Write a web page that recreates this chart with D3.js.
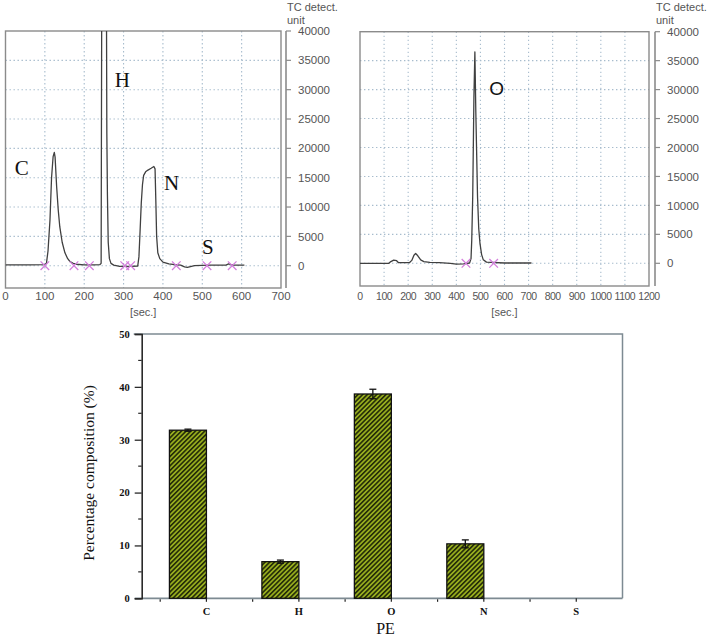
<!DOCTYPE html>
<html>
<head>
<meta charset="utf-8">
<script src="https://cdn.jsdelivr.net/npm/d3@7/dist/d3.min.js"></script>
<style>
  html, body { margin: 0; padding: 0; background: #fff; }
  svg { display: block; }
</style>
</head>
<body>
<svg id="chart" width="709" height="640"></svg>
<script>
// ---------------- DATA ----------------
// Chromatogram 1 (C, H, N, S detection)
const chromA_time = [0, 60, 100, 104, 108, 113, 117, 121, 124, 126, 130, 134, 138, 144, 151, 158, 164, 172, 180, 200, 225, 240, 243, 244.5, 250, 256.5, 257.5, 259, 261, 264, 268, 275, 290, 320, 336, 339, 342, 345, 348, 351, 356, 362, 370, 377, 380, 382, 384, 387, 392, 400, 415, 430, 445, 455, 462, 470, 480, 520, 560, 567, 573, 580, 607];
const chromA_signal = [150, 150, 200, 400, 2500, 7800, 15000, 18600, 19300, 18500, 13400, 9500, 6600, 4000, 2200, 1200, 700, 400, 250, 150, 150, 200, 400, 45000, 80000, 45000, 22500, 12000, 4000, 1200, 400, 100, -100, -100, -50, 1500, 6000, 10700, 13800, 15400, 16000, 16300, 16600, 16900, 16500, 11000, 5000, 2200, 1200, 600, 300, 200, 100, -200, -300, -150, 0, 100, 100, 300, 200, 100, 100];
const chromA_marks = [100, 174, 213, 303, 318, 434, 512, 576];
const chromA_xTicks = [0, 100, 200, 300, 400, 500, 600, 700];

// Chromatogram 2 (O detection)
const chromB_time = [0, 120, 128, 140, 152, 160, 205, 215, 224, 231, 240, 252, 265, 290, 330, 375, 400, 430, 455, 461, 464, 468, 473, 477, 481, 488, 493, 498, 505, 512, 525, 600, 712];
const chromB_signal = [0, 0, 300, 550, 450, 100, 100, 500, 1400, 1700, 1300, 600, 300, 150, 100, 0, -150, -100, 50, 800, 4000, 11500, 28700, 36500, 26000, 11500, 6000, 3500, 1500, 600, 200, 50, 50];
const chromB_marks = [440, 555];
const chromB_xTicks = [0, 100, 200, 300, 400, 500, 600, 700, 800, 900, 1000, 1100, 1200];

const chrom_yTicks = [0, 5000, 10000, 15000, 20000, 25000, 30000, 35000, 40000];

// Peak annotations (element, time, signal)
const peakNamesA = ["C", "H", "N", "S"];
const peakTimesA = [41, 297, 422, 514];
const peakSignalsA = [16700, 31600, 14100, 3200];
const peakNamesB = ["O"];
const peakTimesB = [567];
const peakSignalsB = [30200];

// Bar chart
const elements = ["C", "H", "O", "N", "S"];
const composition = [31.8, 6.93, 38.65, 10.3, 0];
const compositionErr = [0.2, 0.3, 0.9, 0.75, 0];
const barYTicks = [0, 10, 20, 30, 40, 50];
const barYMinor = [5, 15, 25, 35, 45];

// ---------------- DRAW ----------------
const svg = d3.select("#chart");
const defs = svg.append("defs");

const gray = "#555";
const frameCol = "#8b8b8b";
const gridCol = "#a7bccd";
const traceCol = "#404040";
const markCol = "#d47fdc";
const sansFont = "Liberation Sans, Arial, sans-serif";
const serifFont = "Liberation Serif, Times New Roman, serif";

function chromPanel(cfg) {
  const g = svg.append("g");
  const x = d3.scaleLinear().domain(cfg.xDomain).range([cfg.left, cfg.right]);
  const y = d3.scaleLinear().domain([0, 40000]).range([cfg.zeroY, cfg.top]);

  defs.append("clipPath").attr("id", cfg.id)
    .append("rect").attr("x", cfg.left).attr("y", cfg.top)
    .attr("width", cfg.right - cfg.left).attr("height", cfg.bottom - cfg.top);

  // grid
  const grid = g.append("g").attr("stroke", gridCol).attr("stroke-width", 1.1)
    .attr("stroke-dasharray", "1.4,2.6").attr("fill", "none");
  grid.selectAll("line.v").data(cfg.xTicks.slice(1, -1)).join("line")
    .attr("x1", d => x(d)).attr("x2", d => x(d))
    .attr("y1", cfg.top).attr("y2", cfg.bottom);
  grid.selectAll("line.h").data(chrom_yTicks.slice(0, -1)).join("line")
    .attr("x1", cfg.left).attr("x2", cfg.right)
    .attr("y1", d => y(d)).attr("y2", d => y(d));

  // frame
  g.append("rect").attr("x", cfg.left).attr("y", cfg.top)
    .attr("width", cfg.right - cfg.left).attr("height", cfg.bottom - cfg.top)
    .attr("fill", "none").attr("stroke", frameCol).attr("stroke-width", 1.4);

  // trace
  const line = d3.line().x((d, i) => x(cfg.times[i])).y(d => y(d));
  g.append("path").datum(cfg.signal)
    .attr("clip-path", `url(#${cfg.id})`)
    .attr("d", line).attr("fill", "none")
    .attr("stroke", traceCol).attr("stroke-width", 1.3)
    .attr("stroke-linejoin", "round");

  // marks (x)
  const s = 4.3;
  g.selectAll("path.mark").data(cfg.marks).join("path")
    .attr("d", d => {
      const cx = x(d), cy = y(0);
      return `M${cx - s},${cy - s}L${cx + s},${cy + s}M${cx - s},${cy + s}L${cx + s},${cy - s}`;
    })
    .attr("stroke", markCol).attr("stroke-width", 1.3).attr("fill", "none");

  // right y axis
  const ax = cfg.axisX;
  g.append("line").attr("x1", ax).attr("x2", ax).attr("y1", cfg.top).attr("y2", cfg.bottom)
    .attr("stroke", frameCol).attr("stroke-width", 1.6);
  g.selectAll("line.yt").data(chrom_yTicks).join("line")
    .attr("x1", ax).attr("x2", ax + 5)
    .attr("y1", d => y(d)).attr("y2", d => y(d))
    .attr("stroke", frameCol).attr("stroke-width", 1.2);
  g.selectAll("text.yl").data(chrom_yTicks).join("text")
    .attr("x", ax + 12).attr("y", d => y(d)).attr("dy", "0.36em")
    .attr("font-family", sansFont).attr("font-size", 11.5).attr("fill", gray)
    .text(d => d);
  g.append("text").attr("x", ax + 1).attr("y", 10.5)
    .attr("font-family", sansFont).attr("font-size", 11).attr("fill", gray)
    .text("TC detect.");
  g.append("text").attr("x", ax + 1).attr("y", 24)
    .attr("font-family", sansFont).attr("font-size", 11).attr("fill", gray)
    .text("unit");

  // x tick labels
  g.selectAll("text.xl").data(cfg.xTicks).join("text")
    .attr("x", d => x(d)).attr("y", 300).attr("text-anchor", "middle")
    .attr("font-family", sansFont).attr("font-size", cfg.xFont).attr("fill", gray)
    .attr("letter-spacing", cfg.xSpacing)
    .text(d => d);
  g.append("text").attr("x", (cfg.left + cfg.right) / 2).attr("y", 316)
    .attr("text-anchor", "middle")
    .attr("font-family", sansFont).attr("font-size", 11).attr("fill", gray)
    .text("[sec.]");

  // peak labels
  g.selectAll("text.pk").data(cfg.peakNames).join("text")
    .attr("x", (d, i) => x(cfg.peakTimes[i]))
    .attr("y", (d, i) => y(cfg.peakSignals[i]))
    .attr("dy", "0.34em").attr("text-anchor", "middle")
    .attr("font-family", cfg.peakFont).attr("font-size", cfg.peakSize).attr("fill", "#111")
    .text(d => d);
}

chromPanel({
  id: "clipA", xDomain: [0, 700], left: 5.5, right: 281, top: 31, bottom: 288, zeroY: 265.7,
  axisX: 286, xTicks: chromA_xTicks, times: chromA_time, signal: chromA_signal, marks: chromA_marks,
  peakNames: peakNamesA, peakTimes: peakTimesA, peakSignals: peakSignalsA,
  peakFont: serifFont, peakSize: 21, xFont: 11.5, xSpacing: 0
});
chromPanel({
  id: "clipB", xDomain: [0, 1200], left: 360, right: 649, top: 31.7, bottom: 286, zeroY: 263.3,
  axisX: 655, xTicks: chromB_xTicks, times: chromB_time, signal: chromB_signal, marks: chromB_marks,
  peakNames: peakNamesB, peakTimes: peakTimesB, peakSignals: peakSignalsB,
  peakFont: "Liberation Sans, Arial, sans-serif", peakSize: 19, xFont: 10.5, xSpacing: -0.5
});

// ---------------- BAR CHART ----------------
const bx = d3.scaleLinear().domain([0.3, 5.5]).range([141.7, 622.5]);
const by = d3.scaleLinear().domain([0, 50]).range([598.3, 334]);
const bg = svg.append("g");

const pat = defs.append("pattern").attr("id", "hatch")
  .attr("patternUnits", "userSpaceOnUse").attr("width", 3.3).attr("height", 3.3)
  .attr("patternTransform", "rotate(45)");
pat.append("rect").attr("width", 3.3).attr("height", 3.3).attr("fill", "#97ad1e");
pat.append("line").attr("x1", 0.8).attr("x2", 0.8).attr("y1", 0).attr("y2", 3.3)
  .attr("stroke", "#1c2406").attr("stroke-width", 1.5);

// frame top & right
bg.append("path")
  .attr("d", `M${bx(0.3) - 8},${by(50)}H${bx(5.5)}V${by(0)}`)
  .attr("fill", "none").attr("stroke", "#7d8a92").attr("stroke-width", 1.5);
// bottom axis
bg.append("line").attr("x1", bx(0.3) - 7).attr("x2", bx(5.5))
  .attr("y1", by(0)).attr("y2", by(0))
  .attr("stroke", "#7d8a92").attr("stroke-width", 1.8);

// bars
const barData = elements.map((e, i) => ({ e, v: composition[i], err: compositionErr[i], pos: i + 1 }))
  .filter(d => d.v > 0);
bg.selectAll("rect.bar").data(barData).join("rect")
  .attr("x", d => bx(d.pos - 0.4)).attr("width", d => bx(d.pos) - bx(d.pos - 0.4))
  .attr("y", d => by(d.v)).attr("height", d => by(0) - by(d.v))
  .attr("fill", "url(#hatch)").attr("stroke", "#111").attr("stroke-width", 1.3);

// error bars
const eb = bg.append("g").attr("stroke", "#111").attr("stroke-width", 1.3);
barData.forEach(d => {
  const cx = bx(d.pos - 0.2);
  eb.append("line").attr("x1", cx).attr("x2", cx).attr("y1", by(d.v + d.err)).attr("y2", by(d.v - d.err));
  eb.append("line").attr("x1", cx - 3.5).attr("x2", cx + 3.5).attr("y1", by(d.v + d.err)).attr("y2", by(d.v + d.err));
  eb.append("line").attr("x1", cx - 3.5).attr("x2", cx + 3.5).attr("y1", by(d.v - d.err)).attr("y2", by(d.v - d.err));
});

// left axis
const yAxis = d3.axisLeft(by).tickValues(barYTicks).tickSize(7).tickPadding(5).tickFormat(d3.format("d"));
const yg = bg.append("g").attr("transform", `translate(${bx(0.3)},0)`).call(yAxis);
yg.select(".domain").attr("stroke", "#2a2a2a").attr("stroke-width", 1.6);
yg.selectAll(".tick line").attr("stroke", "#2a2a2a").attr("stroke-width", 1.3);
yg.selectAll(".tick text").attr("font-family", serifFont).attr("font-weight", "bold")
  .attr("font-size", 10.5).attr("fill", "#111");
bg.selectAll("line.ymin").data(barYMinor).join("line")
  .attr("x1", bx(0.3) - 3.5).attr("x2", bx(0.3))
  .attr("y1", d => by(d)).attr("y2", d => by(d))
  .attr("stroke", "#2a2a2a").attr("stroke-width", 1.2);

// bottom ticks
bg.selectAll("line.xmaj").data(elements).join("line")
  .attr("x1", (d, i) => bx(i + 1)).attr("x2", (d, i) => bx(i + 1))
  .attr("y1", by(0)).attr("y2", by(0) + 3.5)
  .attr("stroke", "#222").attr("stroke-width", 1.2);
bg.selectAll("line.xmin").data(elements).join("line")
  .attr("x1", (d, i) => bx(i + 0.5)).attr("x2", (d, i) => bx(i + 0.5))
  .attr("y1", by(0) + 1).attr("y2", by(0) + 3.5)
  .attr("stroke", "#222").attr("stroke-width", 1.2);

// category labels
bg.selectAll("text.cat").data(elements).join("text")
  .attr("x", (d, i) => bx(i + 1)).attr("y", 614.5).attr("text-anchor", "middle")
  .attr("font-family", serifFont).attr("font-weight", "bold").attr("font-size", 10.5)
  .attr("fill", "#111").text(d => d);

// axis titles
bg.append("text").attr("x", 385.5).attr("y", 634).attr("text-anchor", "middle")
  .attr("font-family", serifFont).attr("font-size", 16).attr("fill", "#111").text("PE");
bg.append("text").attr("transform", "translate(94,473) rotate(-90)")
  .attr("text-anchor", "middle")
  .attr("font-family", serifFont).attr("font-size", 15.5).attr("fill", "#111")
  .text("Percentage composition (%)");
</script>
</body>
</html>
